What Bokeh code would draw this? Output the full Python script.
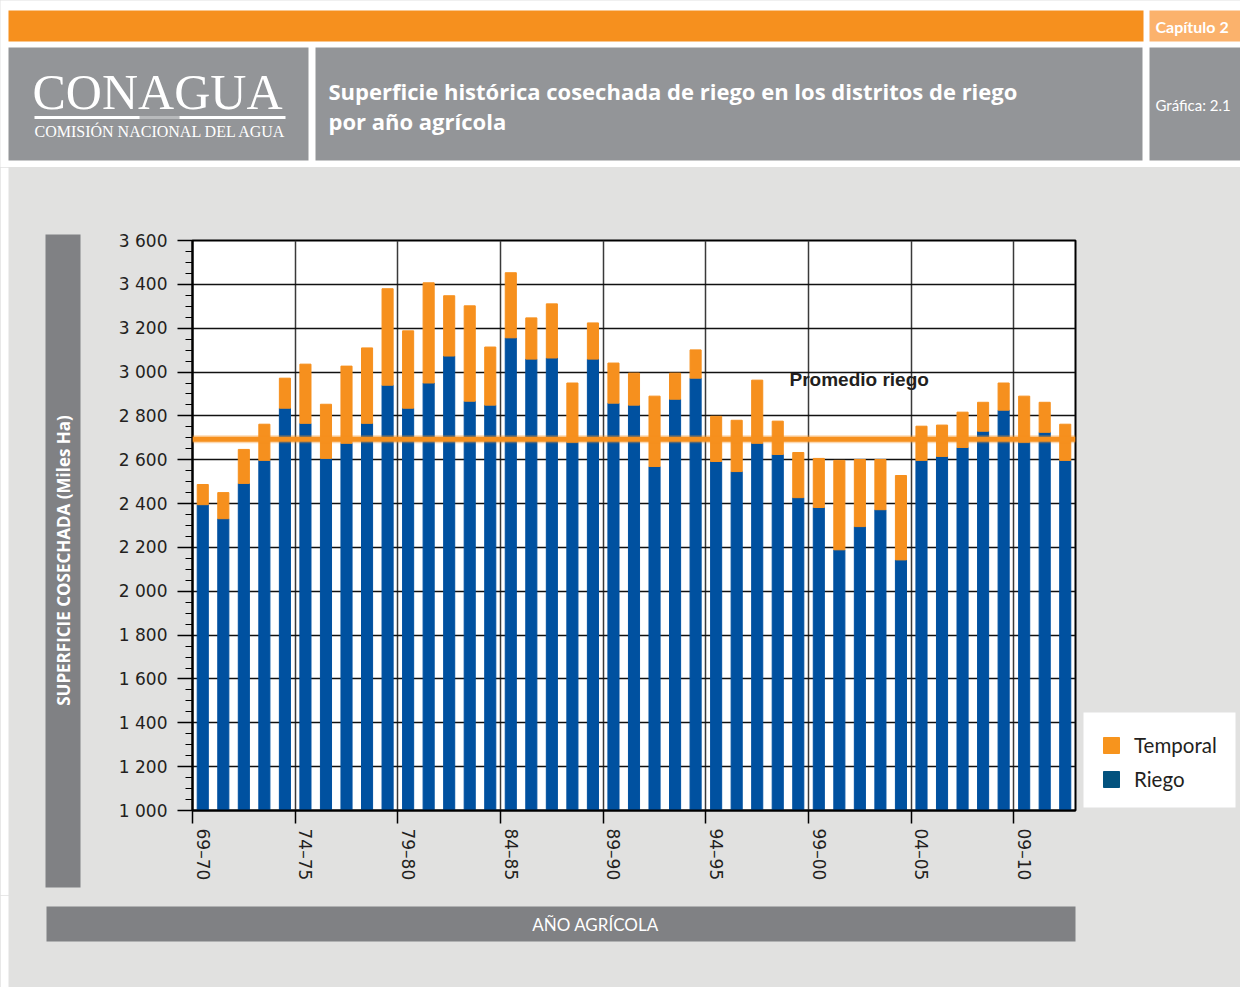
import math
from bokeh.plotting import figure
from bokeh.layouts import column, row
from bokeh.models import (Range1d, LinearAxis, FixedTicker, SingleIntervalTicker,
                          Label, Legend, LegendItem, ColumnDataSource, Span)
from bokeh.embed import file_html
from bokeh.resources import INLINE

# ---------------- data ----------------
CATEGORIES = ["69–70", "70–71", "71–72", "72–73", "73–74", "74–75", "75–76", "76–77",
              "77–78", "78–79", "79–80", "80–81", "81–82", "82–83", "83–84", "84–85",
              "85–86", "86–87", "87–88", "88–89", "89–90", "90–91", "91–92", "92–93",
              "93–94", "94–95", "95–96", "96–97", "97–98", "98–99", "99–00", "00–01",
              "01–02", "02–03", "03–04", "04–05", "05–06", "06–07", "07–08", "08–09",
              "09–10", "10–11", "11–12"]
RIEGO = [2395, 2331, 2492, 2597, 2835, 2766, 2606, 2675, 2766, 2940, 2835, 2950, 3073,
         2867, 2849, 3156, 3059, 3064, 2680, 3059, 2858, 2849, 2569, 2876, 2972, 2592,
         2546, 2675, 2624, 2427, 2382, 2189, 2295, 2372, 2143, 2597, 2615, 2656, 2730,
         2826, 2680, 2725, 2597]
TEMPORAL = [92, 119, 155, 165, 137, 270, 247, 352, 344, 440, 353, 457, 275, 435, 265,
            297, 188, 247, 270, 165, 183, 146, 321, 119, 129, 206, 234, 288, 152, 206,
            224, 408, 306, 229, 385, 156, 143, 161, 132, 124, 210, 137, 165]
PROMEDIO_RIEGO = 2693
Y_TICKS = [1000, 1200, 1400, 1600, 1800, 2000, 2200, 2400, 2600, 2800, 3000, 3200, 3400, 3600]
Y_TICK_LABELS = ["1 000", "1 200", "1 400", "1 600", "1 800", "2 000", "2 200", "2 400",
                 "2 600", "2 800", "3 000", "3 200", "3 400", "3 600"]
LABEL_STEP = 5
SERIES_LABELS = ["Temporal", "Riego"]

TITLE_1 = "Superficie histórica cosechada de riego en los distritos de riego"
TITLE_2 = "por año agrícola"
Y_TITLE = "SUPERFICIE COSECHADA (Miles Ha)"
X_TITLE = "AÑO AGRÍCOLA"
AVG_LABEL = "Promedio riego"

# ---------------- styles ----------------
BLUE = "#0051a0"
ORANGE = "#f6901e"
LEG_BLUE = "#02527e"
LEG_ORANGE = "#f7941d"
GRAY_HEAD = "#939598"
GRAY_BOX = "#808184"
BG = "#e1e1e0"
DARK = "#231f20"
TICK_FONT = "DejaVu Sans"

W, H = 1240, 987
HEADER_H = 167
MID_H = 728
BOT_H = H - HEADER_H - MID_H
LEFT_W = 110
RIGHT_W = 162
MAIN_W = W - LEFT_W - RIGHT_W

# frame position in page pixels
FX0, FX1, FY0, FY1 = 192, 1075, 240, 810
N = len(CATEGORIES)
Y0, Y1 = Y_TICKS[0], Y_TICKS[-1]


def deco(x0, x1, y0, y1, bg):
    f = figure(width=x1 - x0, height=y1 - y0, x_range=Range1d(x0, x1),
               y_range=Range1d(y1, y0), x_axis_type=None, y_axis_type=None,
               toolbar_location=None, output_backend="svg", title=None,
               min_border=0, min_border_left=0, min_border_right=0,
               min_border_top=0, min_border_bottom=0, frame_align=False,
               background_fill_color=bg, border_fill_color=bg, outline_line_color=None)
    f.grid.visible = False
    return f


def rect(f, x0, y0, x1, y1, color):
    f.quad(left=[x0], right=[x1], top=[y0], bottom=[y1], fill_color=color,
           line_color=None)


def txt(f, x, y, text, size, color, font, style="normal", align="left",
        baseline="middle", angle=0.0):
    f.add_layout(Label(x=x, y=y, text=text, text_font_size=f"{size}px",
                       text_color=color, text_font=font, text_font_style=style,
                       text_align=align, text_baseline=baseline, angle=angle))


# ---------------- header ----------------
hdr = deco(0, W, 0, HEADER_H, "white")
rect(hdr, 8, 10, 1143, 41, ORANGE)
rect(hdr, 1149, 10, 1256, 41, "#fbb26c")
rect(hdr, 8, 47, 308, 160, GRAY_HEAD)
rect(hdr, 315, 47, 1142, 160, GRAY_HEAD)
rect(hdr, 1149, 47, 1256, 160, GRAY_HEAD)
txt(hdr, 32, 91, "CONAGUA", 50, "white", "Liberation Serif")
rect(hdr, 34, 115.5, 285, 118.5, "white")
rect(hdr, 139, 115.5, 179, 118.5, "#b8babc")
txt(hdr, 34, 131, "COMISIÓN NACIONAL DEL AGUA", 16, "white", "Liberation Serif")
txt(hdr, 328, 90, TITLE_1, 22, "white", "Open Sans", style="bold")
txt(hdr, 328, 120, TITLE_2, 22, "white", "Open Sans", style="bold")
txt(hdr, 1155, 26, "Capítulo 2", 16, "white", "Lato", style="bold")
txt(hdr, 1155, 104, "Gráfica: 2.1", 15, "white", "Lato")

# ---------------- left (y title) ----------------
lft = deco(0, LEFT_W, HEADER_H, HEADER_H + MID_H, BG)
rect(lft, 0, HEADER_H, 8, HEADER_H + MID_H, "white")
rect(lft, 45, 234, 80, 887, GRAY_BOX)
txt(lft, 63, 560, Y_TITLE, 17, "white", "Open Sans", style="bold", align="center",
    angle=math.pi / 2)

# ---------------- main chart ----------------
p = figure(width=MAIN_W, height=MID_H, x_range=Range1d(0, N), y_range=Range1d(Y0, Y1),
           output_backend="svg", toolbar_location=None, title=None, frame_align=False,
           min_border_left=FX0 - LEFT_W, min_border_right=LEFT_W + MAIN_W - FX1,
           min_border_top=FY0 - HEADER_H, min_border_bottom=HEADER_H + MID_H - FY1,
           background_fill_color="white", border_fill_color=BG,
           outline_line_color="black", outline_line_width=2)

src = ColumnDataSource(dict(x=[i + 0.5 for i in range(N)], riego=RIEGO, temporal=TEMPORAL))
p.vbar_stack(["riego", "temporal"], x="x", width=0.54, color=[BLUE, ORANGE], source=src)

p.add_layout(Span(location=PROMEDIO_RIEGO, dimension="width", line_color=ORANGE,
                  line_width=8, line_alpha=0.35))
p.add_layout(Span(location=PROMEDIO_RIEGO, dimension="width", line_color=ORANGE,
                  line_width=5))

ya = p.yaxis[0]
ya.ticker = SingleIntervalTicker(interval=200, num_minor_ticks=4)
ya.major_label_overrides = dict(zip(Y_TICKS, Y_TICK_LABELS))
ya.major_tick_out = 15
ya.major_tick_in = 0
ya.minor_tick_out = 7
ya.minor_tick_in = 0
ya.major_tick_line_color = "black"
ya.minor_tick_line_color = "black"
ya.major_tick_line_width = 1.5
ya.minor_tick_line_width = 1.2
ya.axis_line_color = "black"
ya.axis_line_width = 2
ya.major_label_standoff = 10
ya.major_label_text_font = TICK_FONT
ya.major_label_text_font_size = "17px"
ya.major_label_text_color = DARK

xa = p.xaxis[0]
xa.ticker = FixedTicker(ticks=list(range(0, N, LABEL_STEP)))
xa.major_tick_out = 13
xa.major_tick_in = 0
xa.major_tick_line_color = "black"
xa.major_tick_line_width = 1.5
xa.minor_tick_line_color = None
xa.axis_line_color = "black"
xa.axis_line_width = 2
xa.major_label_text_alpha = 0
xa.major_label_text_font_size = "1px"
xa.major_label_standoff = 0

xl = LinearAxis(ticker=FixedTicker(ticks=[i + 0.5 for i in range(0, N, LABEL_STEP)]),
                major_label_overrides={i + 0.5: CATEGORIES[i] for i in range(0, N, LABEL_STEP)},
                major_label_orientation="vertical", axis_line_color=None,
                major_tick_line_color=None, minor_tick_line_color=None,
                major_tick_out=0, major_tick_in=0, minor_tick_out=0, minor_tick_in=0,
                major_label_standoff=5, major_label_text_font=TICK_FONT,
                major_label_text_font_size="17px", major_label_text_color=DARK)
p.add_layout(xl, "below")

p.xgrid.ticker = FixedTicker(ticks=list(range(LABEL_STEP, N, LABEL_STEP)))
p.xgrid.grid_line_color = "#3a3a3a"
p.xgrid.grid_line_width = 1.5
p.ygrid.ticker = SingleIntervalTicker(interval=200)
p.ygrid.grid_line_color = "#111111"
p.ygrid.grid_line_width = 1.3

px_per_x = (FX1 - FX0) / N
val_per_px = (Y1 - Y0) / (FY1 - FY0)
p.add_layout(Label(x=(789 - FX0) / px_per_x, y=Y0 + (FY1 - 379) * val_per_px,
                   text=AVG_LABEL, text_font="Liberation Sans", text_font_style="bold",
                   text_font_size="19px", text_color=DARK, text_baseline="middle"))

# ---------------- right (legend) ----------------
RX0 = LEFT_W + MAIN_W
rgt = deco(RX0, W, HEADER_H, HEADER_H + MID_H, BG)
rect(rgt, 1083, 712, 1235, 807, "white")
# swatch renderers kept outside the visible range; only their legend glyphs show
r_t = rgt.quad(left=[-50], right=[-40], top=[-50], bottom=[-40], color=LEG_ORANGE)
r_r = rgt.quad(left=[-50], right=[-40], top=[-50], bottom=[-40], color=LEG_BLUE)
leg = Legend(items=[LegendItem(label=SERIES_LABELS[0], renderers=[r_t]),
                    LegendItem(label=SERIES_LABELS[1], renderers=[r_r])],
             location=(1101 - RX0, HEADER_H + MID_H - 791),
             orientation="vertical",
             background_fill_alpha=0.0, border_line_color=None,
             padding=0, spacing=10, margin=0,
             glyph_width=20, glyph_height=20, label_standoff=13, label_height=20,
             label_text_font="Lato", label_text_font_size="20.5px",
             label_text_color=DARK)
rgt.add_layout(leg, "center")

# ---------------- bottom (x title) ----------------
bot = deco(0, W, HEADER_H + MID_H, H, BG)
rect(bot, 0, HEADER_H + MID_H, 8, H, "white")
rect(bot, 46, 906, 1075, 941, GRAY_BOX)
txt(bot, 595, 924, X_TITLE, 17, "white", "Lato", align="center")

mid = row(lft, p, rgt, styles={"background-color": BG})
layout = column(hdr, mid, bot, styles={"background-color": BG})
open("out.html", "w").write(file_html(layout, INLINE))
